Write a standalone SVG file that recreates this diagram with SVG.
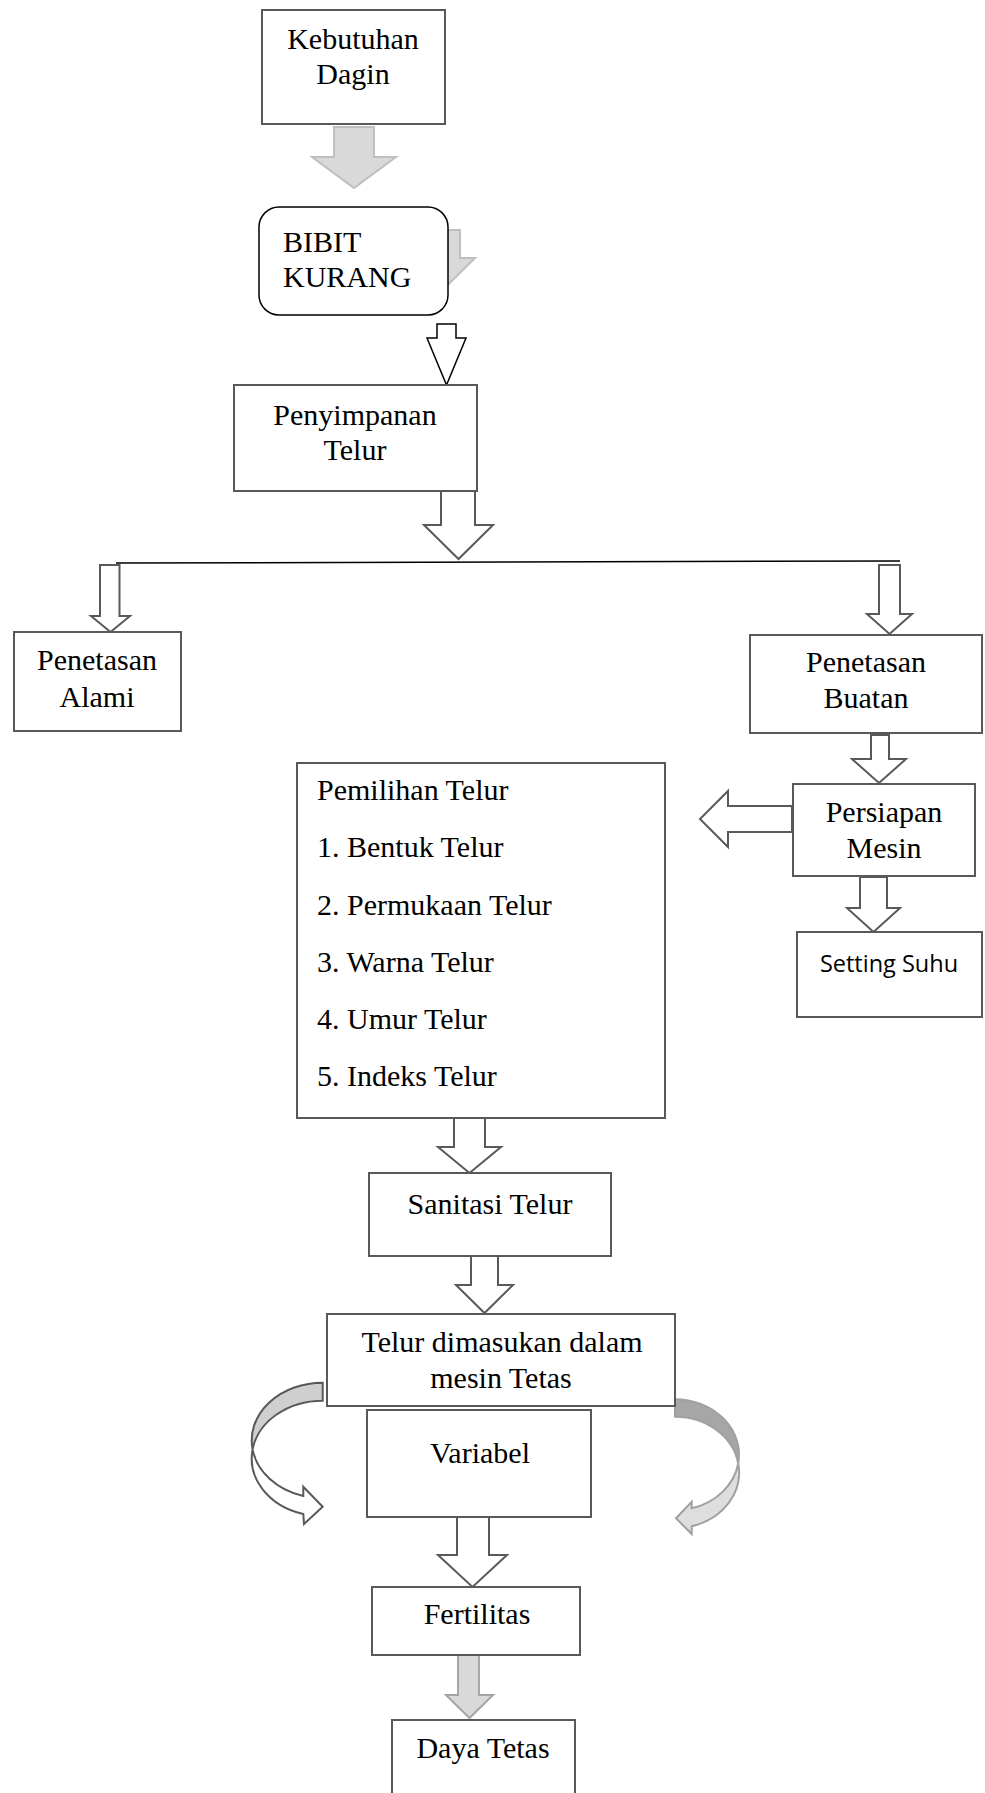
<svg xmlns="http://www.w3.org/2000/svg" width="985" height="1793" viewBox="0 0 985 1793">
<style>
.box{fill:#fff;stroke:#595959;stroke-width:2}
.t{font-family:"Liberation Serif","Times New Roman",serif;font-size:30px;fill:#000}
.c{text-anchor:middle}
.s{font-family:"Open Sans","Liberation Sans",sans-serif;font-size:23.5px;fill:#000;text-anchor:middle}
.wa{fill:#fff;stroke:#595959;stroke-width:2;stroke-linejoin:miter}
.ga{fill:#d9d9d9;stroke:#bfbfbf;stroke-width:2}
</style>
<rect width="985" height="1793" fill="#fff"/>
<g id="connectors">
  <polygon class="ga" points="334,127 374,127 374,157 396,157 354,188 312,157 334,157"/>
  <polygon class="ga" points="416,230 460,230 460,258 475,258 436.5,296 398,258 416,258"/>
  <polygon fill="#fff" stroke="#000" stroke-width="1.5" points="437,324 456,324 456,338 466,338 446.5,385 427,338 437,338"/>
  <polygon class="wa" points="441,491 475,491 475,525 493,525 458.5,559 424,525 441,525"/>
  <line x1="116" y1="563" x2="900" y2="561" stroke="#000" stroke-width="1.5"/>
  <polygon class="wa" points="100,565 119.5,565 119.5,616 130,616 110.5,632 91,616 100,616"/>
  <polygon class="wa" points="879,565 900,565 900,614 912,614 889.5,634 867,614 879,614"/>
  <polygon class="wa" points="871,735 889,735 889,759 906,759 879,783 852,759 871,759"/>
  <polygon class="wa" points="792,806 728,806 728,791 700,819 728,847 728,832 792,832"/>
  <polygon class="wa" points="860,877 887,877 887,908 900,908 873.5,932 847,908 860,908"/>
  <polygon class="wa" points="454,1118 485,1118 485,1147 501,1147 469.5,1173 438,1147 454,1147"/>
  <polygon class="wa" points="471,1256 498,1256 498,1285 513,1285 484.5,1313 456,1285 471,1285"/>
  <polygon class="wa" points="457,1517 489,1517 489,1555 507,1555 472.5,1587 438,1555 457,1555"/>
  <polygon fill="#d9d9d9" stroke="#a6a6a6" stroke-width="2" points="458,1654 479,1654 479,1695 493,1695 469.5,1718 446,1695 458,1695"/>
  <path d="M322.7,1382.7 A71,57.7 0 0 0 252.6,1449.4 A71,57.7 0 0 1 322.7,1400.7 Z" fill="#cfcfcf" stroke="#595959" stroke-width="2"/>
  <path d="M252.6,1449.4 A71,57.7 0 0 0 303.3,1514 L304,1524 L322.7,1506.7 L303.3,1486.7 L303.3,1496 A71,57.7 0 0 1 252.6,1449.4 Z" fill="#fff" stroke="#595959" stroke-width="2"/>
  <path d="M675,1399.3 A64,55.5 0 0 1 738.2,1463.5 A64,55.5 0 0 0 675,1416.8 Z" fill="#a6a6a6" stroke="#a0a0a0" stroke-width="2"/>
  <path d="M738.2,1463.5 A64,55.5 0 0 1 691.7,1526.3 L691.7,1534 L676,1518.3 L691.7,1501.7 L691.7,1508.3 A64,55.5 0 0 0 738.2,1463.5 Z" fill="#dedede" stroke="#a0a0a0" stroke-width="2"/>
</g>
<g id="kebutuhan">
  <rect class="box" x="262" y="10" width="183" height="114"/>
  <text class="t c" x="353" y="49">Kebutuhan</text>
  <text class="t c" x="353" y="84">Dagin</text>
</g>
<g id="bibit">
  <rect x="259" y="207" width="189" height="108" rx="20" ry="20" fill="#fff" stroke="#000" stroke-width="1.5"/>
  <text class="t" x="283" y="252">BIBIT</text>
  <text class="t" x="283" y="287">KURANG</text>
</g>
<g id="penyimpanan">
  <rect class="box" x="234" y="385" width="243" height="106"/>
  <text class="t c" x="355" y="425">Penyimpanan</text>
  <text class="t c" x="355" y="460">Telur</text>
</g>
<g id="alami">
  <rect class="box" x="14" y="632" width="167" height="99"/>
  <text class="t c" x="97" y="670">Penetasan</text>
  <text class="t c" x="97" y="707">Alami</text>
</g>
<g id="buatan">
  <rect class="box" x="750" y="635" width="232" height="98"/>
  <text class="t c" x="866" y="672">Penetasan</text>
  <text class="t c" x="866" y="708">Buatan</text>
</g>
<g id="persiapan">
  <rect class="box" x="793" y="784" width="182" height="92"/>
  <text class="t c" x="884" y="822">Persiapan</text>
  <text class="t c" x="884" y="858">Mesin</text>
</g>
<g id="setting">
  <rect class="box" x="797" y="932" width="185" height="85"/>
  <text class="s" x="889" y="972">Setting Suhu</text>
</g>
<g id="pemilihan">
  <rect class="box" x="297" y="763" width="368" height="355"/>
  <text class="t" x="317" y="800">Pemilihan Telur</text>
  <text class="t" x="317" y="857">1. Bentuk Telur</text>
  <text class="t" x="317" y="915">2. Permukaan Telur</text>
  <text class="t" x="317" y="972">3. Warna Telur</text>
  <text class="t" x="317" y="1029">4. Umur Telur</text>
  <text class="t" x="317" y="1086">5. Indeks Telur</text>
</g>
<g id="sanitasi">
  <rect class="box" x="369" y="1173" width="242" height="83"/>
  <text class="t c" x="490" y="1214">Sanitasi Telur</text>
</g>
<g id="mesin">
  <rect class="box" x="327" y="1314" width="348" height="92"/>
  <text class="t c" x="502" y="1352">Telur dimasukan dalam</text>
  <text class="t c" x="501" y="1388">mesin Tetas</text>
</g>
<g id="variabel">
  <rect class="box" x="367" y="1410" width="224" height="107"/>
  <text class="t c" x="480" y="1463">Variabel</text>
</g>
<g id="fertilitas">
  <rect class="box" x="372" y="1587" width="208" height="68"/>
  <text class="t c" x="477" y="1624">Fertilitas</text>
</g>
<g id="daya">
  <rect class="box" x="392" y="1720" width="183" height="90"/>
  <text class="t c" x="483" y="1758">Daya Tetas</text>
</g>
</svg>
